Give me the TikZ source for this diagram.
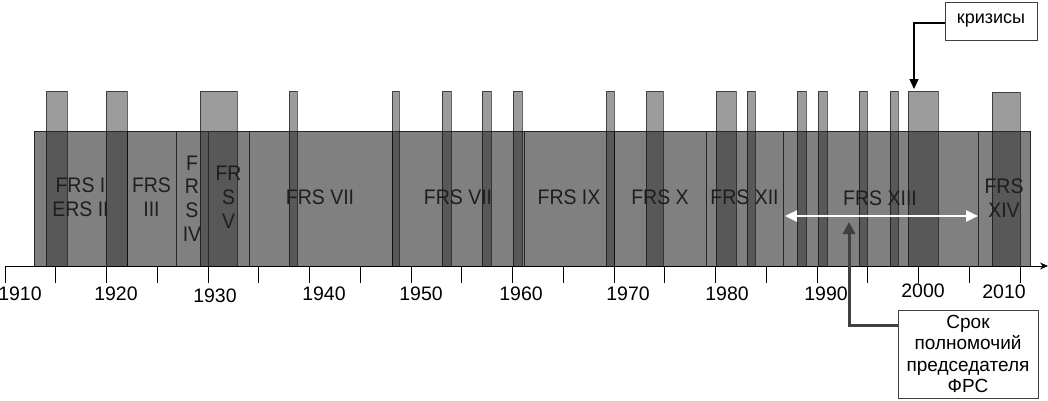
\documentclass[tikz,border=0pt]{standalone}
\usepackage{fontspec}
\setmainfont{Liberation Sans}
\usetikzlibrary{arrows.meta}
\definecolor{bandgray}{RGB}{128,128,128}
\definecolor{crisisfill}{RGB}{45,45,45}
\definecolor{termarrow}{RGB}{64,64,64}
\definecolor{labeltext}{RGB}{30,30,30}
\tikzset{
  termbox/.style={draw=black!85, line width=0.8pt, fill=bandgray},
  crisisbar/.style={fill=crisisfill, fill opacity=0.47, draw=black, draw opacity=0.6, line width=0.8pt},
  termlabel/.style={font=\fontsize{19.5}{22}\selectfont, text=labeltext, align=center, inner sep=0pt, yscale=1.08},
  yearlabel/.style={font=\fontsize{19.5}{22}\selectfont, inner sep=0pt},
  axistick/.style={line width=0.9pt},
  callout/.style={draw=black!75, line width=0.9pt, fill=white, align=center, inner sep=0pt},
}
\begin{document}
\begin{tikzpicture}[x=1pt,y=-1pt]
\useasboundingbox[fill=white] (0,0) rectangle (1048,400);
% terms of office
\foreach \a/\b in {34/127,127/176,176/208,208/249,249/392,392/524,524/614,614/706,706/783,783/978,978/1030}
  \draw[termbox] (\a,131) rectangle (\b,266);
% crises
\foreach \a/\b/\t in {46/67/91,106/127/91,200/237/91,289/297/91,392/399/91,442/451/91,482/491/91,513/522/91,606/614/91,646/663/91,716/736/91,747/755/91,797/806/91,818/827/91,859/867/91,890/898/91,908/938/91,992/1020/92}
  \draw[crisisbar] (\a,\t) rectangle (\b,266);
% term labels
\node[termlabel] (t1) at (80.5,197.5) {FRS I\\ERS II};
\node[termlabel] (t3) at (151.5,197.5) {FRS\\III};
\node[termlabel] (t4) at (192,198.5) {F\\R\\S\\IV};
\node[termlabel] (t5) at (228.5,197.5) {FR\\S\\V};
\node[termlabel] (t7) at (320,197) {FRS VII};
\node[termlabel] (t8) at (458,197) {FRS VII};
\node[termlabel] (t9) at (569,197) {FRS IX};
\node[termlabel] (t10) at (660,197) {FRS X};
\node[termlabel] (t12) at (744.5,197) {FRS XII};
\node[termlabel] (t13) at (880,198) {FRS XIII};
\node[termlabel] (t14) at (1004,198.5) {FRS\\XIV};
% axis
\coordinate (axstart) at (5,266);
\coordinate (axend) at (1048,266);
\draw[line width=0.9pt, -{Stealth[length=8pt,width=7pt]}] (axstart) -- (axend);
\foreach \yr in {1910,1915,...,2010}
  \draw[axistick] ({5+10.15*(\yr-1910)},266) -- ++(0,17);
% year labels
\foreach \yr/\px/\py in {1910/20/294,1920/116/294,1930/215/296,1940/324/294,1950/421/294,1960/521/294,1970/628/294,1980/727/294,1990/826/294,2000/923/291,2010/1004/292}
  \node[yearlabel] (y\yr) at (\px,\py) {\yr};
% white double arrow: term of FRS XIII
\coordinate (spanL) at (785,216);
\coordinate (spanR) at (978,216);
\draw[white, line width=2.5pt, {Triangle[length=12pt,width=11pt]}-{Triangle[length=12pt,width=11pt]}] (spanL) -- (spanR);
% callouts
\node[callout, font=\fontsize{18}{21.5}\selectfont, minimum width=92pt, minimum height=38pt] (krizisy) at (991,21) {кризисы};
\coordinate (krtip) at (914,89);
\draw[line width=1.5pt, -{Triangle[length=10pt,width=9pt]}] ([yshift=-2pt]krizisy.west) -| (krtip);
\node[callout, font=\fontsize{19}{21.5}\selectfont, minimum width=140pt, minimum height=88pt] (srok) at (968,354) {Срок\\полномочий\\председателя\\ФРС};
\coordinate (sroktip) at (849,222);
\draw[termarrow, line width=3pt, -{Triangle[length=12pt,width=12pt]}] ([yshift=29pt]srok.west) -| (sroktip);
\end{tikzpicture}
\end{document}
